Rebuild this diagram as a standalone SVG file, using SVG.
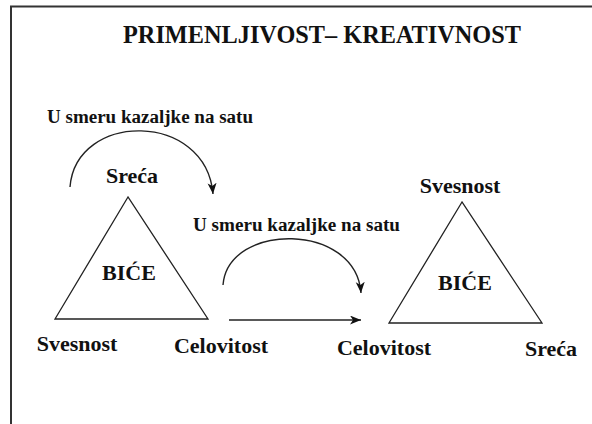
<svg xmlns="http://www.w3.org/2000/svg" width="592" height="424" viewBox="0 0 592 424">
<style>
text{font-family:'Liberation Serif','Times New Roman','DejaVu Serif',serif;font-weight:bold;fill:#111}
.lbl{font-size:22px}
.cw{font-size:18px}
.tri{fill:none;stroke:#222;stroke-width:1.3}
.con{fill:none;stroke:#222;stroke-width:1.4}
.frame{stroke:#333;stroke-width:2;fill:none}
</style>
<defs>
<marker id="ah" markerUnits="userSpaceOnUse" markerWidth="12" markerHeight="10" refX="11" refY="4.5" orient="auto">
<path d="M0,0 L11,4.5 L0,9 L3,4.5 z" fill="#111"/>
</marker>
</defs>
<rect width="592" height="424" fill="#fff"/>
<path class="frame" d="M11,424 L11,6.5 L592,6.5"/>
<text x="123" y="43" font-size="25" textLength="398" lengthAdjust="spacingAndGlyphs">PRIMENLJIVOST– KREATIVNOST</text>
<text class="cw" x="47" y="123" textLength="206" lengthAdjust="spacingAndGlyphs">U smeru kazaljke na satu</text>
<text class="cw" x="193" y="231" textLength="207" lengthAdjust="spacingAndGlyphs">U smeru kazaljke na satu</text>
<g id="connectors">
<path class="con" d="M70,187 C76,111 206,111 213,194" marker-end="url(#ah)"/>
<path class="con" d="M223,285 C228,222 356,222 361,293" marker-end="url(#ah)"/>
<path class="con" d="M229,320 L361,320" marker-end="url(#ah)"/>
</g>
<g id="triangle1">
<polygon class="tri" points="128,197 55,319 208,319"/>
<text class="lbl" x="129" y="280" text-anchor="middle">BIĆE</text>
</g>
<g id="sreca1"><text class="lbl" x="132" y="183" text-anchor="middle">Sreća</text></g>
<g id="svesnost1"><text class="lbl" x="77" y="351" text-anchor="middle">Svesnost</text></g>
<g id="celovitost1"><text class="lbl" x="221" y="353" text-anchor="middle">Celovitost</text></g>
<g id="triangle2">
<polygon class="tri" points="462,202 389,323 542,323"/>
<text class="lbl" x="465" y="290" text-anchor="middle">BIĆE</text>
</g>
<g id="svesnost2"><text class="lbl" x="460" y="193" text-anchor="middle">Svesnost</text></g>
<g id="celovitost2"><text class="lbl" x="384" y="355" text-anchor="middle">Celovitost</text></g>
<g id="sreca2"><text class="lbl" x="551" y="356" text-anchor="middle">Sreća</text></g>
</svg>
